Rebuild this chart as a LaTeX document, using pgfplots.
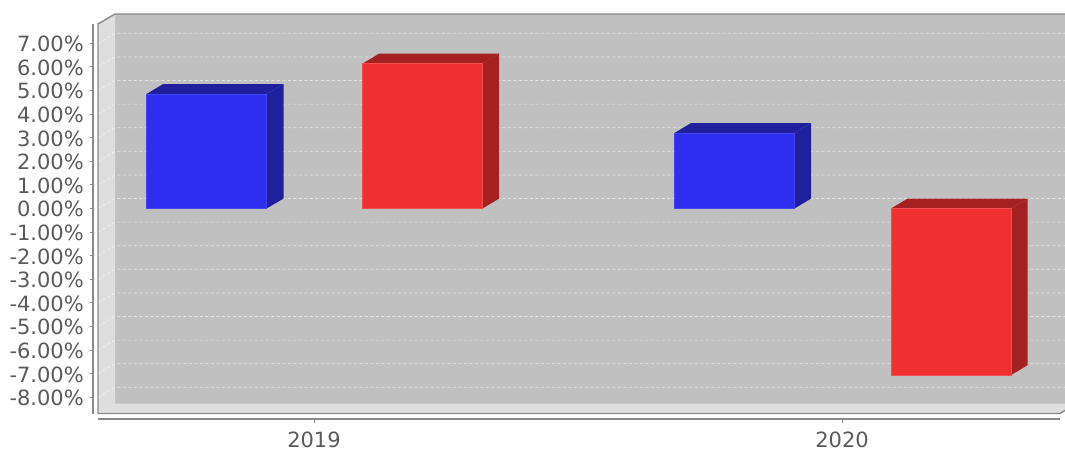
\documentclass[border=0pt]{standalone}
\usepackage{fontspec}
\setmainfont{DejaVu Sans}
\usepackage{pgfplots}
\pgfplotsset{compat=1.18}
\definecolor{wall}{HTML}{C0C0C0}
\definecolor{side}{HTML}{DEDEDE}
\definecolor{edge}{HTML}{8A8A8A}
\definecolor{txt}{HTML}{5A5A5A}
\definecolor{bluef}{HTML}{2E2EF0}
\definecolor{blued}{HTML}{20209F}
\definecolor{bluee}{HTML}{4545F0}
\definecolor{redf}{HTML}{F03030}
\definecolor{redd}{HTML}{A52020}
\definecolor{rede}{HTML}{F05050}
\pgfplotsset{gridl/.style={white,opacity=0.6,line width=0.7pt,dash pattern=on 3pt off 2.5pt,forget plot}}
\begin{document}
\begin{tikzpicture}
\useasboundingbox (0pt,0pt) rectangle (1065pt,451pt);
% Main hidden axis covering the whole picture: x in px, y in percent
\begin{axis}[at={(0pt,0pt)},anchor=south west,scale only axis,width=1065pt,height=451pt,
  xmin=0,xmax=1065,ymin=-10.275,ymax=8.835,hide axis,clip=true]
% walls
\addplot[fill=wall,draw=none] coordinates {(115,-8.263) (115,8.242) (1065,8.242) (1065,-8.263)} --cycle;
\addplot[fill=side,draw=none] coordinates {(98,-8.686) (98,7.818) (115,8.242) (115,-8.263)} --cycle;
\addplot[fill=side,draw=none] coordinates {(98,-8.686) (115,-8.263) (1076.5,-8.263) (1060,-8.686)} --cycle;
% grid lines
\addplot[gridl] coordinates {(98,7) (115,7.4237) (1065,7.4237)};
\addplot[gridl] coordinates {(98,6) (115,6.4237) (1065,6.4237)};
\addplot[gridl] coordinates {(98,5) (115,5.4237) (1065,5.4237)};
\addplot[gridl] coordinates {(98,4) (115,4.4237) (1065,4.4237)};
\addplot[gridl] coordinates {(98,3) (115,3.4237) (1065,3.4237)};
\addplot[gridl] coordinates {(98,2) (115,2.4237) (1065,2.4237)};
\addplot[gridl] coordinates {(98,1) (115,1.4237) (1065,1.4237)};
\addplot[gridl] coordinates {(98,0) (115,0.4237) (1065,0.4237)};
\addplot[gridl] coordinates {(98,-1) (115,-0.5763) (1065,-0.5763)};
\addplot[gridl] coordinates {(98,-2) (115,-1.5763) (1065,-1.5763)};
\addplot[gridl] coordinates {(98,-3) (115,-2.5763) (1065,-2.5763)};
\addplot[gridl] coordinates {(98,-4) (115,-3.5763) (1065,-3.5763)};
\addplot[gridl] coordinates {(98,-5) (115,-4.5763) (1065,-4.5763)};
\addplot[gridl] coordinates {(98,-6) (115,-5.5763) (1065,-5.5763)};
\addplot[gridl] coordinates {(98,-7) (115,-6.5763) (1065,-6.5763)};
\addplot[gridl] coordinates {(98,-8) (115,-7.5763) (1065,-7.5763)};
% wall edges
\addplot[edge,line width=1.4pt] coordinates {(1065,8.242) (115,8.242) (98,7.818) (98,-8.686) (1060,-8.686) (1076.5,-8.263)};
% bar 1 blue 2019
\addplot[fill=blued,draw=none] coordinates {(146.5,4.85) (163,5.27) (283.5,5.27) (266.5,4.85)} --cycle;
\addplot[fill=blued,draw=none] coordinates {(266.5,0) (283.5,0.42) (283.5,5.27) (266.5,4.85)} --cycle;
\addplot[fill=bluef,draw=bluee,line width=0.5pt] coordinates {(146.5,0) (146.5,4.85) (266.5,4.85) (266.5,0)} --cycle;
% bar 2 red 2019
\addplot[fill=redd,draw=none] coordinates {(362.5,6.14) (379,6.56) (499,6.56) (482.5,6.14)} --cycle;
\addplot[fill=redd,draw=none] coordinates {(482.5,0) (499,0.42) (499,6.56) (482.5,6.14)} --cycle;
\addplot[fill=redf,draw=rede,line width=0.5pt] coordinates {(362.5,0) (362.5,6.14) (482.5,6.14) (482.5,0)} --cycle;
% bar 3 blue 2020
\addplot[fill=blued,draw=none] coordinates {(674.5,3.2) (691,3.62) (811,3.62) (794.5,3.2)} --cycle;
\addplot[fill=blued,draw=none] coordinates {(794.5,0) (811,0.42) (811,3.62) (794.5,3.2)} --cycle;
\addplot[fill=bluef,draw=bluee,line width=0.5pt] coordinates {(674.5,0) (674.5,3.2) (794.5,3.2) (794.5,0)} --cycle;
% bar 4 red 2020
\addplot[fill=redd,draw=none] coordinates {(891,0) (907.5,0.42) (1027.5,0.42) (1011,0)} --cycle;
\addplot[fill=redd,draw=none] coordinates {(1011,-7.06) (1027.5,-6.64) (1027.5,0.42) (1011,0)} --cycle;
\addplot[fill=redf,draw=rede,line width=0.5pt] coordinates {(891,-7.06) (891,0) (1011,0) (1011,-7.06)} --cycle;
\end{axis}
% y axis
\begin{axis}[at={(93pt,37pt)},anchor=south west,scale only axis,width=10pt,height=390pt,
  xmin=0,xmax=1,ymin=-8.708,ymax=7.818,
  axis x line=none,axis y line*=left,axis line style={edge,line width=1.3pt,-},
  ytick={-8,-7,-6,-5,-4,-3,-2,-1,0,1,2,3,4,5,6,7},
  yticklabels={-8.00\%,-7.00\%,-6.00\%,-5.00\%,-4.00\%,-3.00\%,-2.00\%,-1.00\%,0.00\%,1.00\%,2.00\%,3.00\%,4.00\%,5.00\%,6.00\%,7.00\%},
  tick align=outside,major tick length=3.5pt,tick style={edge,line width=1pt},
  yticklabel style={font=\fontsize{21}{22}\selectfont,text=txt,inner sep=0pt,yshift=-0.8pt},
  yticklabel shift=5.5pt]
\end{axis}
% x axis
\begin{axis}[at={(98pt,32pt)},anchor=south west,scale only axis,width=962pt,height=10pt,
  xmin=98,xmax=1060,ymin=0,ymax=1,
  axis y line=none,axis x line*=bottom,axis line style={edge,line width=1.3pt,-},
  xtick={314,842},xticklabels={2019,2020},
  tick align=outside,major tick length=3.5pt,tick style={edge,line width=1pt},
  xticklabel style={font=\fontsize{21}{22}\selectfont,text=txt,inner sep=0pt},
  xticklabel shift=9pt]
\end{axis}
\end{tikzpicture}
\end{document}
